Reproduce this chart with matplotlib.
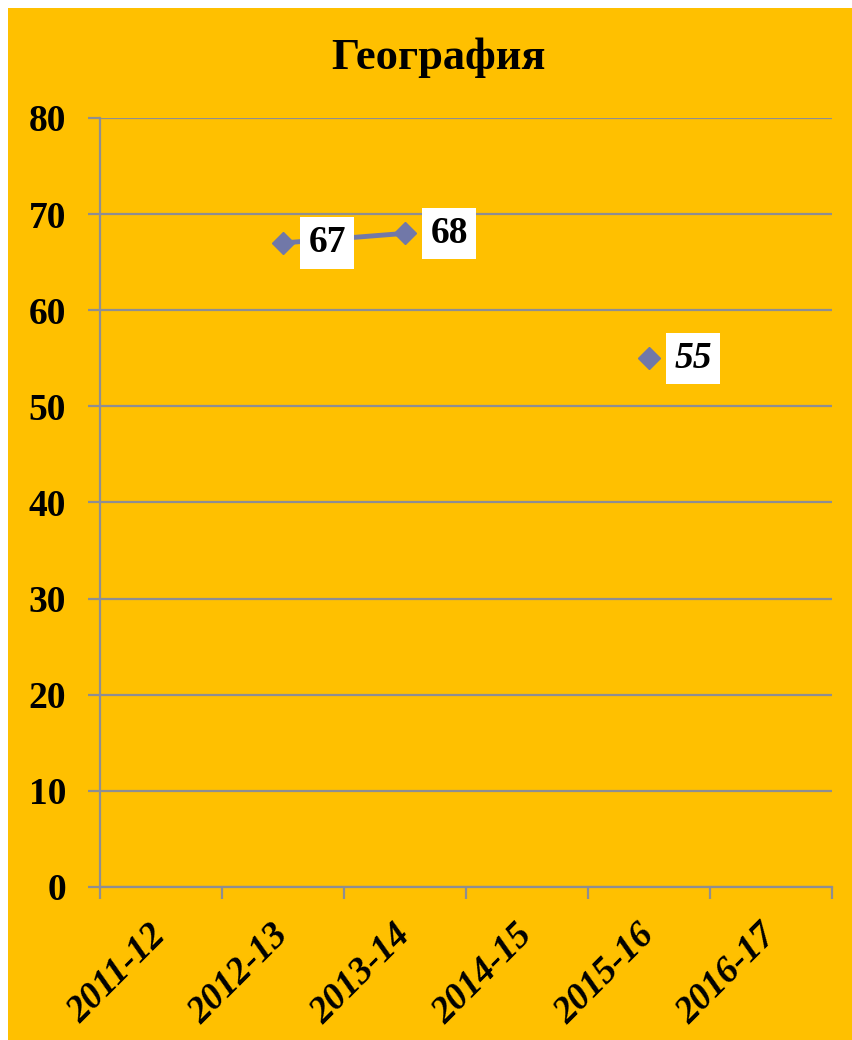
import numpy as np
import matplotlib.pyplot as plt
from matplotlib.patches import Rectangle
import matplotlib.ticker as plticker

years = ['2011-12', '2012-13', '2013-14', '2014-15', '2015-16', '2016-17']
scores = [np.nan, 67, 68, np.nan, 55, np.nan]
label_italic = [False, False, False, False, True, False]

bg = '#FFC000'
grid_c = '#8E8E92'
line_c = '#7178A8'

plt.rcParams['font.family'] = 'Liberation Serif'

fig = plt.figure(figsize=(8.52, 10.4), dpi=100)
fig.patch.set_facecolor('white')
fig.patches.append(Rectangle((8 / 852, 0), 1, 1 - 8 / 1040, transform=fig.transFigure,
                             facecolor=bg, edgecolor='none', zorder=-5))

ax = fig.add_axes([100 / 852, 1 - 887 / 1040, 732 / 852, 769 / 1040])
ax.set_facecolor('none')
ax.set_zorder(2)

x = np.arange(len(years))
y = np.array(scores, dtype=float)
ax.plot(x, y, color=line_c, lw=3.5, marker='D', markersize=11.5, zorder=3)

for xi, yi, it in zip(x, y, label_italic):
    if np.isnan(yi):
        continue
    ax.annotate('%d' % yi, (xi, yi), xytext=(32, 0), textcoords='offset points',
                ha='center', va='center', fontsize=27, fontweight='bold',
                fontstyle='italic' if it else 'normal',
                bbox=dict(boxstyle='square,pad=0.22', facecolor='white', edgecolor='none'),
                zorder=4)

ax.set_xlim(-0.5, len(years) - 0.5)
ax.set_ylim(0, 80)
ax.yaxis.set_major_locator(plticker.MultipleLocator(10))
ax.grid(axis='y', color=grid_c, lw=1.6)
ax.set_axisbelow(True)

ax.set_xticks(x)
ax.set_xticklabels(years, rotation=45, ha='right', va='center', rotation_mode='anchor',
                   fontsize=27, fontweight='bold', fontstyle='italic')
ax.set_xticks(np.arange(-0.5, len(years)), minor=True)
ax.tick_params(axis='x', which='major', length=0, pad=31)
ax.tick_params(axis='x', which='minor', length=8.5, width=1.6, color=grid_c)
ax.tick_params(axis='y', length=8.5, width=1.6, color=grid_c, labelsize=27, pad=16)
for lab in ax.get_yticklabels():
    lab.set_fontweight('bold')

for s in ['top', 'right']:
    ax.spines[s].set_visible(False)
for s in ['left', 'bottom']:
    ax.spines[s].set_color(grid_c)
    ax.spines[s].set_linewidth(1.6)

fig.text(438 / 852, 1 - 58 / 1040, 'География', ha='center', va='center',
         fontsize=32, fontweight='bold')

fig.savefig('out.png', dpi=100)
